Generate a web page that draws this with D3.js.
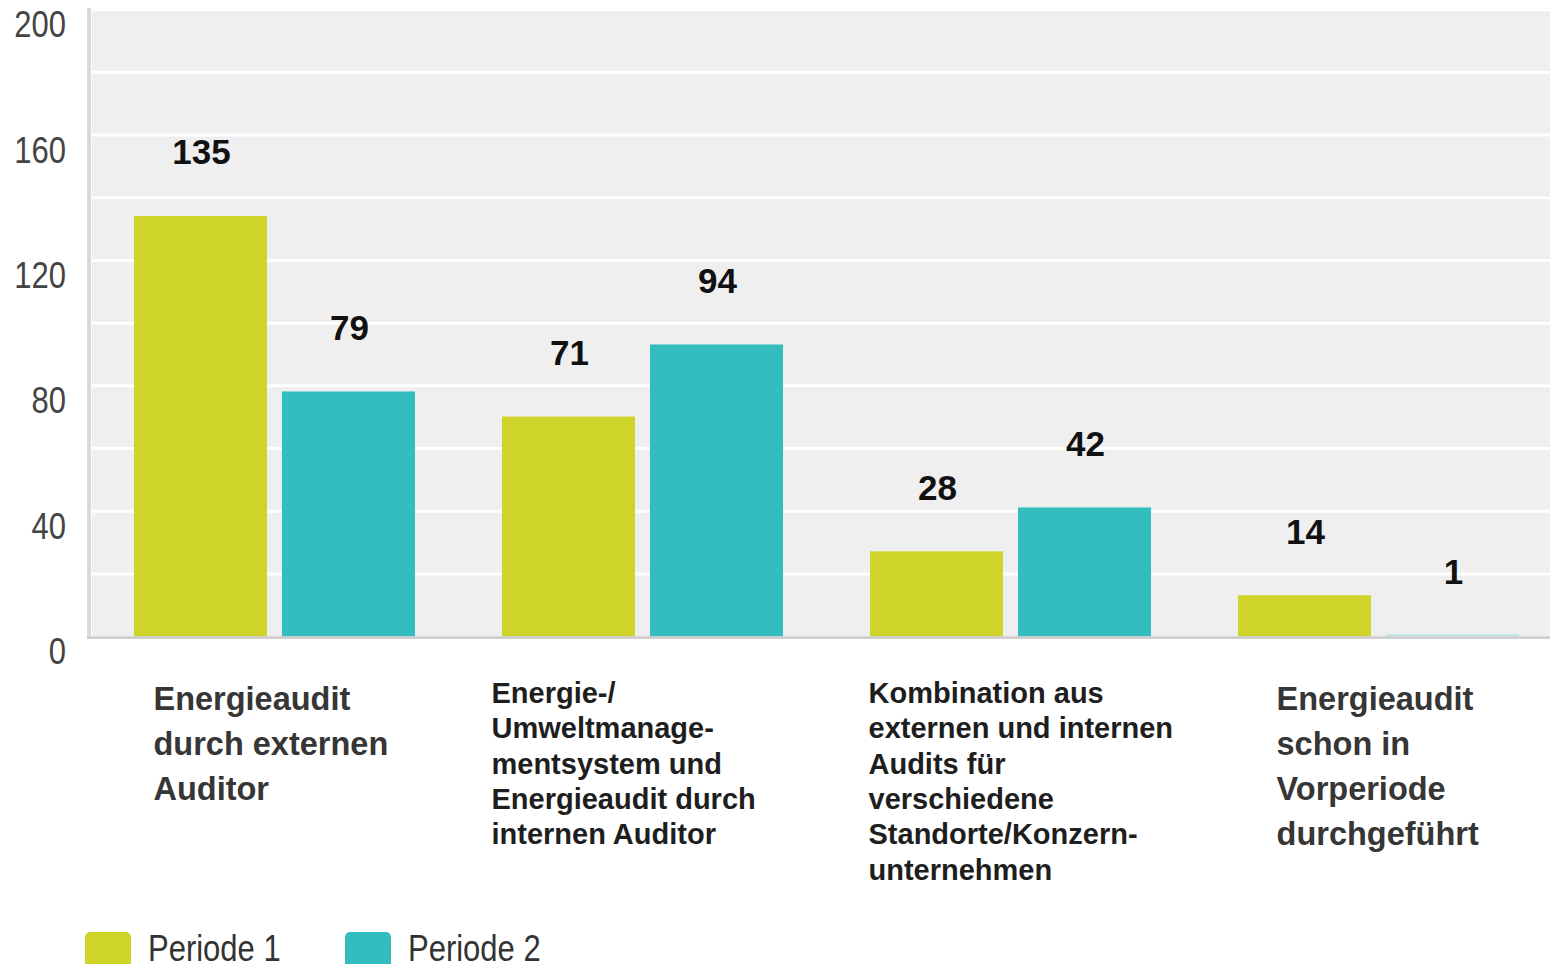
<!DOCTYPE html>
<html>
<head>
<meta charset="utf-8">
<script src="https://cdn.jsdelivr.net/npm/d3@7"></script>
<style>
  html, body { margin: 0; padding: 0; background: #fff; }
  svg { display: block; font-family: "Liberation Sans", Arial, sans-serif; }
</style>
</head>
<body>
<div id="chart"></div>
<script>
// data
const categories = ['ext', 'int', 'komb', 'vor'];
const categoryLines = [
  ['Energieaudit', 'durch externen', 'Auditor'],
  ['Energie-/', 'Umweltmanage-', 'mentsystem und', 'Energieaudit durch', 'internen Auditor'],
  ['Kombination aus', 'externen und internen', 'Audits für', 'verschiedene', 'Standorte/Konzern-', 'unternehmen'],
  ['Energieaudit', 'schon in', 'Vorperiode', 'durchgeführt']
];
const seriesNames = ['Periode 1', 'Periode 2'];
const periode1 = [135, 71, 28, 14];
const periode2 = [79, 94, 42, 1];
const yTicks = [0, 40, 80, 120, 160, 200];
const gridTicks = [20, 40, 60, 80, 100, 120, 140, 160, 180, 200];

// layout
const W = 1550, H = 964;
const plot = { left: 92, top: 8, bottom: 637 };
const colors = ['#cfd42a', '#34bdbf'];
// label style per category (the source mixes two text styles)
const labelStyle = [
  { size: 32.5, lh: 45, fill: '#363636', dx: -121, y: 710 },
  { size: 29, lh: 35.3, fill: '#1e1e1e', dx: -151, y: 703 },
  { size: 29, lh: 35.3, fill: '#1e1e1e', dx: -142, y: 703 },
  { size: 32.5, lh: 45, fill: '#363636', dx: -102, y: 710 }
];

const svg = d3.select('#chart').append('svg')
  .attr('width', W)
  .attr('height', H);

const x0 = d3.scaleBand().domain(categories).range([92, 1561])
  .paddingInner(0.2364).paddingOuter(0.114);
const x1 = d3.scaleBand().domain(seriesNames).range([0, x0.bandwidth()])
  .paddingInner(0.101);
const y = d3.scaleLinear().domain([0, 200]).range([636.6, 9.7]);
// bar tops sit a touch lower than the grid in the source
const yBar = d3.scaleLinear().domain([0, 200]).range([639.1, 12.2]);
const barTop = v => Math.min(yBar(v), y(0) - 2.5);

// plot background
svg.append('rect')
  .attr('x', plot.left).attr('y', plot.top)
  .attr('width', W - plot.left).attr('height', plot.bottom - plot.top)
  .attr('fill', '#efefef');

// gridlines
svg.append('g').selectAll('line').data(gridTicks).join('line')
  .attr('x1', plot.left).attr('x2', W)
  .attr('y1', d => y(d)).attr('y2', d => y(d))
  .attr('stroke', '#ffffff').attr('stroke-width', 3);

// y axis
svg.append('g')
  .attr('transform', 'translate(66,0)')
  .call(d3.axisLeft(y).tickValues(yTicks).tickSize(0).tickPadding(0))
  .call(g => g.select('.domain').remove())
  .call(g => g.selectAll('text')
    .attr('dy', 0)
    .attr('transform', 'translate(0,27) scale(1,1.2)')
    .attr('fill', '#444')
    .style('font-size', '31px')
    .style('font-family', '"Liberation Sans", Arial, sans-serif'));

// bars
const rows = categories.map((c, i) => ({ cat: c, values: [periode1[i], periode2[i]] }));
const groups = svg.append('g').selectAll('g').data(rows).join('g')
  .attr('transform', d => `translate(${x0(d.cat)},0)`);

groups.selectAll('rect')
  .data(d => d.values.map((v, j) => ({ key: seriesNames[j], value: v, j })))
  .join('rect')
  .attr('x', d => x1(d.key))
  .attr('y', d => barTop(d.value))
  .attr('width', x1.bandwidth())
  .attr('height', d => y(0) - barTop(d.value))
  .attr('fill', d => colors[d.j])
  .attr('fill-opacity', d => d.value < 2 ? 0.22 : 1);

// axis lines
svg.append('rect').attr('x', 87).attr('y', plot.top).attr('width', 4)
  .attr('height', plot.bottom - plot.top + 2).attr('fill', '#d9d9d9');
svg.append('rect').attr('x', 87).attr('y', 636.2).attr('width', W - 87)
  .attr('height', 2.8).attr('fill', '#cfcfcf');

// value labels
groups.selectAll('text')
  .data(d => d.values.map((v, j) => ({ key: seriesNames[j], value: v })))
  .join('text')
  .attr('x', d => x1(d.key) + x1.bandwidth() / 2 + 1)
  .attr('y', d => y(d.value) - 49)
  .attr('text-anchor', 'middle')
  .attr('font-weight', 'bold')
  .attr('font-size', 35)
  .attr('fill', '#111')
  .text(d => d.value);

// category labels
svg.append('g').selectAll('text').data(categories).join('text')
  .attr('font-weight', 'bold')
  .attr('font-size', (d, i) => labelStyle[i].size)
  .attr('fill', (d, i) => labelStyle[i].fill)
  .each(function (d, i) {
    const st = labelStyle[i];
    const cx = x0(d) + x0.bandwidth() / 2 + st.dx;
    d3.select(this).selectAll('tspan').data(categoryLines[i]).join('tspan')
      .attr('x', cx)
      .attr('y', (t, k) => st.y + k * st.lh)
      .text(t => t);
  });

// legend
const legendX = [85, 345];
const legend = svg.append('g').selectAll('g').data(seriesNames).join('g')
  .attr('transform', (d, i) => `translate(${legendX[i]},932)`);
legend.append('rect')
  .attr('width', 46).attr('height', 46).attr('rx', 5)
  .attr('fill', (d, i) => colors[i]);
legend.append('text')
  .attr('transform', 'translate(63,29) scale(1,1.2)')
  .attr('font-size', 31)
  .attr('fill', '#333')
  .text(d => d);
</script>
</body>
</html>
